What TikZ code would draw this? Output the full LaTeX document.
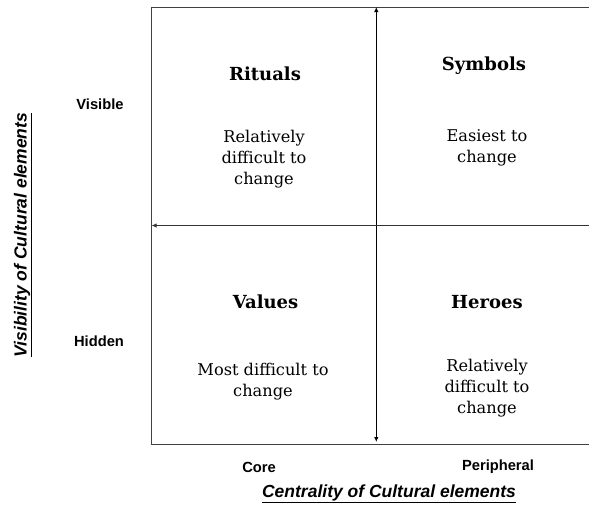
\documentclass[tikz,border=0pt]{standalone}
\usepackage{fontspec}
\setmainfont{DejaVu Serif}
\newfontfamily\labelfont{Liberation Sans}
\usetikzlibrary{arrows.meta}
\tikzset{
  quadtitle/.style={font=\fontsize{18}{21}\selectfont\bfseries, inner sep=0pt},
  quadtext/.style={font=\fontsize{16.2}{21}\selectfont, align=center, inner sep=0pt},
  sidelabel/.style={font=\labelfont\fontsize{14.7}{17}\selectfont\bfseries, inner sep=0pt},
  axistitle/.style={font=\labelfont\fontsize{17.5}{20}\selectfont\bfseries\itshape, inner sep=0pt},
  frame/.style={draw=black!75, line width=1pt},
  axisline/.style={draw=black, line width=1pt},
  tip/.style={-{Latex[length=5pt,width=4.5pt]}}
}
\begin{document}
\begin{tikzpicture}[x=1pt,y=-1pt]
\useasboundingbox (0,0) rectangle (589,506);
% frame
\coordinate (tl) at (151,7.5);
\coordinate (tr) at (589,7.5);
\coordinate (bl) at (151,444);
\coordinate (br) at (589,444);
\draw[frame] (tr) -- (tl) -- (bl) -- (br);
% axes
\coordinate (vt) at (376.3,7);
\coordinate (vb) at (376.3,442);
\coordinate (vm) at (376.3,225.5);
\coordinate (hr) at (589,225.5);
\coordinate (hl) at (151.5,225.5);
\draw[axisline, tip] (vm) -- (vt);
\draw[axisline, tip] (vm) -- (vb);
\draw[axisline, draw=black!80, tip] (hr) -- (hl);
% quadrants
\node[quadtitle] (rituals) at (265,74) {Rituals};
\node[quadtext] (ritualstxt) at (264,159) {Relatively\\difficult to\\change};
\node[quadtitle] (symbols) at (484,66) {Symbols};
\node[quadtext] (symbolstxt) at (487,148) {Easiest to\\change};
\node[quadtitle] (values) at (265.5,302) {Values};
\node[quadtext] (valuestxt) at (263,382) {Most difficult to\\change};
\node[quadtitle] (heroes) at (487,302) {Heroes};
\node[quadtext] (heroestxt) at (487,388) {Relatively\\difficult to\\change};
% side labels
\node[sidelabel] (visible) at (100,104) {Visible};
\node[sidelabel] (hidden) at (99,341) {Hidden};
\node[sidelabel] (core) at (259,467) {Core};
\node[sidelabel] (peripheral) at (498,467) {Peripheral};
\node[axistitle] (centrality) at (389,494) {\underline{Centrality of Cultural elements}};
\node[axistitle, rotate=90] (visibility) at (23,235) {\underline{Visibility of Cultural elements}};
\end{tikzpicture}
\end{document}
